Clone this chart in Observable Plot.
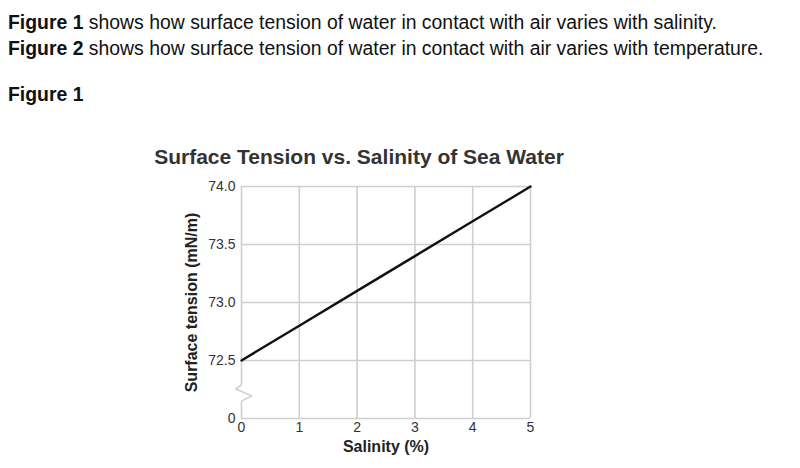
<!DOCTYPE html>
<html>
<head>
<meta charset="utf-8">
<script src="https://cdn.jsdelivr.net/npm/d3@7"></script>
<script src="https://cdn.jsdelivr.net/npm/@observablehq/plot@0.6"></script>
<style>
  html, body { margin: 0; padding: 0; background: #fff; width: 800px; height: 468px; overflow: hidden; }
  body { position: relative; font-family: "Liberation Sans", Arial, sans-serif; color: #111; }
  .line { position: absolute; left: 8px; font-size: 19.4px; white-space: nowrap; line-height: 22px; }
  #title { position: absolute; top: 145px; left: 0; width: 718px; text-align: center; font-weight: bold; font-size: 21px; line-height: 24px; color: #333; white-space: nowrap; }
  #chart { position: absolute; top: 175px; left: 0; }
</style>
</head>
<body>
<div class="line" style="top:11px"><b>Figure 1</b> shows how surface tension of water in contact with air varies with salinity.</div>
<div class="line" style="top:37px"><b>Figure 2</b> shows how surface tension of water in contact with air varies with temperature.</div>
<div class="line" style="top:83px"><b>Figure 1</b></div>
<div id="title">Surface Tension vs. Salinity of Sea Water</div>
<div id="chart"></div>
<script>
// Data
const salinity = [0, 1, 2, 3, 4, 5];
const tension = [72.5, 72.8, 73.1, 73.4, 73.7, 74.0];
const xTicks = [0, 1, 2, 3, 4, 5];
const yTicks = [72.0, 72.5, 73.0, 73.5, 74.0];
const yTickLabels = ["0", "72.5", "73.0", "73.5", "74.0"];
const yGrid = [72.5, 73.0, 73.5, 74.0];
const xGrid = [1, 2, 3, 4, 5];
// axis break (zigzag) drawn on the y axis between 0 and 72.5
const axisBreakX = [0, 0, -0.1, 0.18, 0, 0];
const axisBreakY = [74.0, 72.29, 72.255, 72.195, 72.15, 72.0];

const data = salinity.map((s, i) => ({s, t: tension[i]}));
const breakPts = axisBreakX.map((x, i) => ({x, y: axisBreakY[i]}));
const grid = "#cfcfcf";

const plot = Plot.plot({
  width: 800,
  height: 293,
  marginLeft: 241,
  marginRight: 270,
  marginTop: 11,
  marginBottom: 50,
  style: {fontFamily: "Liberation Sans, Arial, sans-serif", background: "#fff"},
  x: {domain: [0, 5]},
  y: {domain: [72, 74]},
  marks: [
    Plot.ruleY(yGrid, {stroke: grid, strokeWidth: 1.6}),
    Plot.ruleX(xGrid, {stroke: grid, strokeWidth: 1.6}),
    Plot.ruleY([72], {stroke: grid, strokeWidth: 1.6}),
    Plot.line(breakPts, {x: "x", y: "y", stroke: grid, strokeWidth: 1.6, curve: "linear"}),
    Plot.line(data, {x: "s", y: "t", stroke: "#111", strokeWidth: 2.4}),
    Plot.axisX(xTicks, {tickSize: 0, tickPadding: 4, fontSize: 14, fill: "#333", label: null, tickFormat: d => String(d)}),
    Plot.axisY(yTicks, {tickSize: 0, tickPadding: 6, fontSize: 14, fill: "#333", label: null,
      tickFormat: d => yTickLabels[yTicks.indexOf(d)]}),
    Plot.text(["Salinity (%)"], {frameAnchor: "bottom", textAnchor: "middle", dy: 33, fontSize: 16, fontWeight: "bold", fill: "#222"}),
    Plot.text(["Surface tension (mN/m)"], {frameAnchor: "left", textAnchor: "middle", dx: -50, rotate: -90, fontSize: 16, fontWeight: "bold", fill: "#222"})
  ]
});
document.getElementById("chart").appendChild(plot);
</script>
</body>
</html>
